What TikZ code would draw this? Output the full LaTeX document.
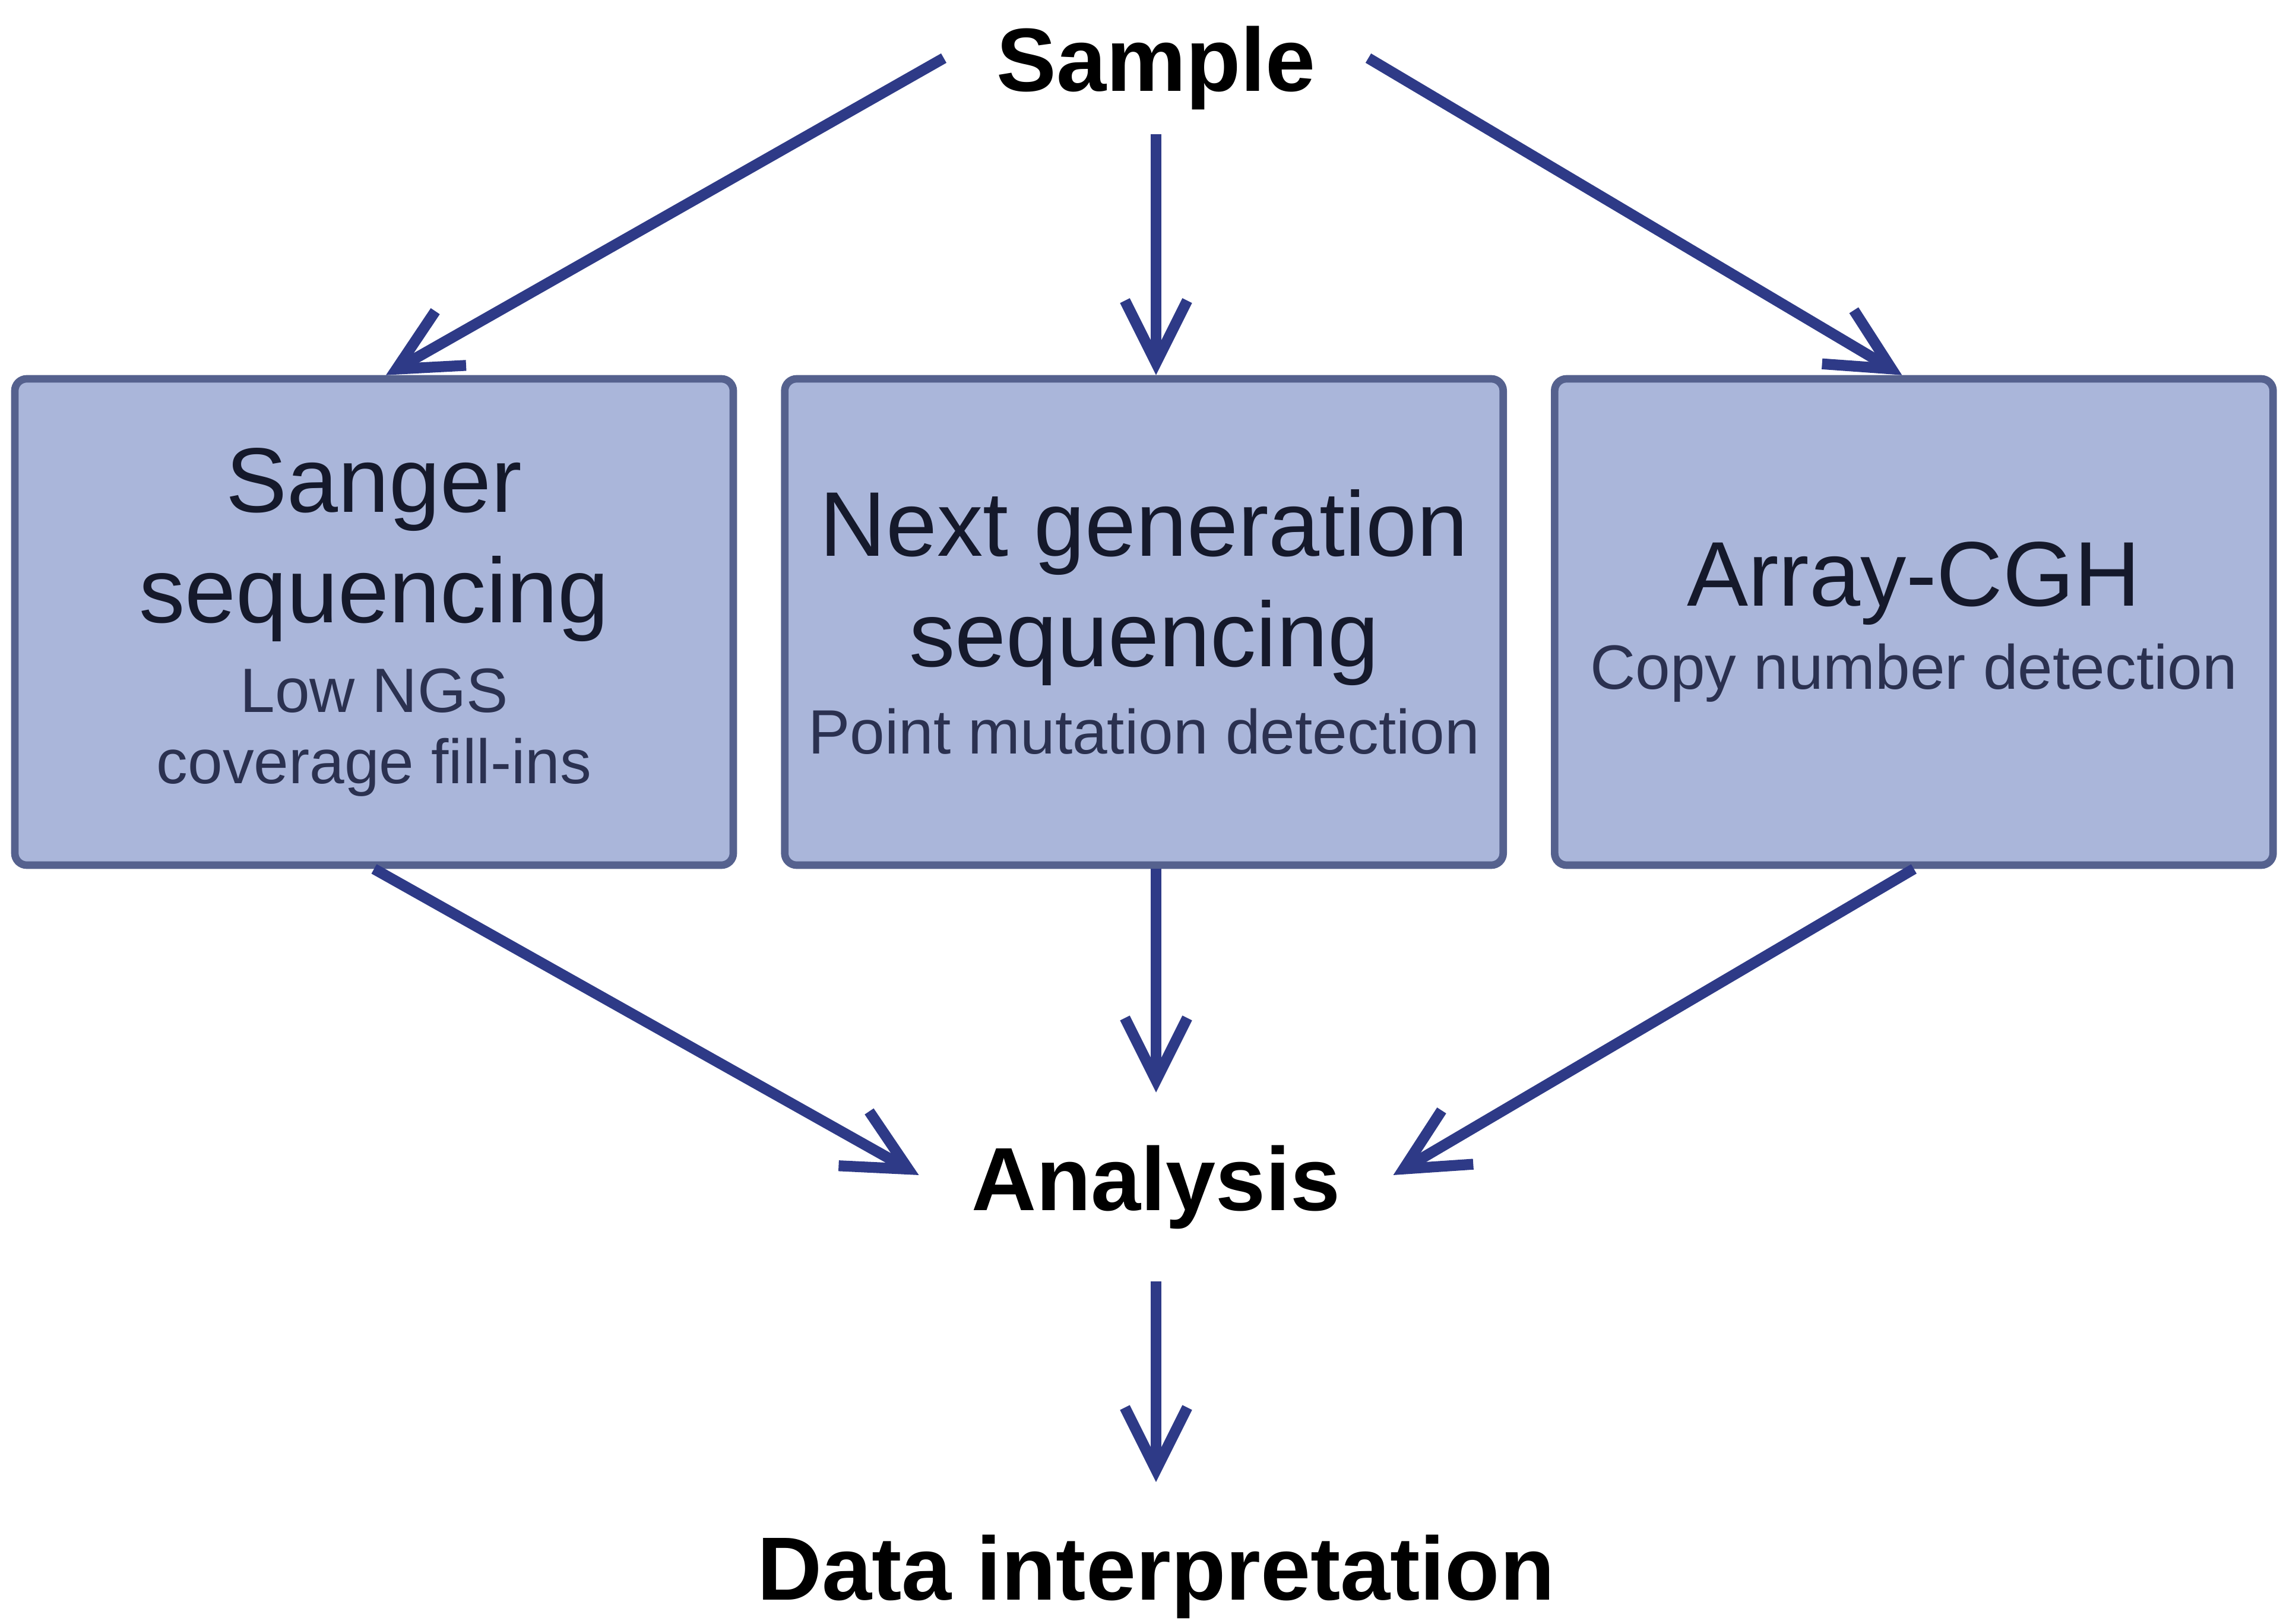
\documentclass[tikz,border=0pt]{standalone}
\usepackage{fontspec}
\setmainfont{Liberation Sans}
\usetikzlibrary{arrows.meta}
\usetikzlibrary{positioning}
\definecolor{flowblue}{HTML}{2E3A87}
\definecolor{boxfill}{HTML}{AAB6DA}
\definecolor{boxline}{HTML}{55618E}
\definecolor{boxtext}{HTML}{15192B}
\definecolor{subtext}{HTML}{2B3150}

\begin{document}
\begin{tikzpicture}[
    >={Straight Barb[length=10.5mm, width=10.5mm]},
    stage/.style={font=\fontsize{43}{52}\selectfont\bfseries, text=black,
                  inner xsep=0.88cm, inner ysep=0.88cm},
    method/.style={rectangle, rounded corners=2mm, draw=boxline, fill=boxfill,
                   line width=3.6pt, minimum width=12.1cm, minimum height=8.19cm,
                   align=center, text=boxtext, font=\fontsize{44}{53}\selectfont},
    flow/.style={->, draw=flowblue, line width=5.2pt},
]

\def\notefont{\fontsize{30}{35}\selectfont\color{subtext}}
\def\gap{0.74cm}

\useasboundingbox (0,0) rectangle (38.4,-27.34);

% ── Sample on top ──
\node[stage, inner ysep=0.4cm, anchor=base] (sample) at (19.47,-1.54) {Sample};

% ── Three methods ──
\node[method] (sanger) at (6.30,-10.475)
    {Sanger\\sequencing\\[-10pt]{\notefont Low NGS}\\[-19pt]{\notefont coverage fill-ins}};
\node[method, right=\gap of sanger] (ngs)
    {Next generation\\sequencing\\[-11pt]{\notefont Point mutation detection}};
\node[method, right=\gap of ngs] (acgh)
    {Array-CGH\\[-13pt]{\notefont Copy number detection}};

% ── Analysis and interpretation ──
\node[stage, anchor=base] (analysis) at (19.47,-20.38) {Analysis};
\node[stage, anchor=base] (interp) at (19.47,-26.94) {Data interpretation};

\draw[flow] ([yshift=1.7mm]sample.west) -- ([xshift=2mm]sanger.north);
\draw[flow] (sample.south) -- (sample.south |- ngs.north);
\draw[flow] ([yshift=1.7mm]sample.east) -- ([xshift=-2mm]acgh.north);

\draw[flow] (sanger.south) -- ([yshift=2mm]analysis.west);
\draw[flow] (analysis.north |- ngs.south) -- (analysis.north);
\draw[flow] (acgh.south) -- ([yshift=2mm]analysis.east);

\draw[flow] (analysis) -- (interp);

\end{tikzpicture}
\end{document}
